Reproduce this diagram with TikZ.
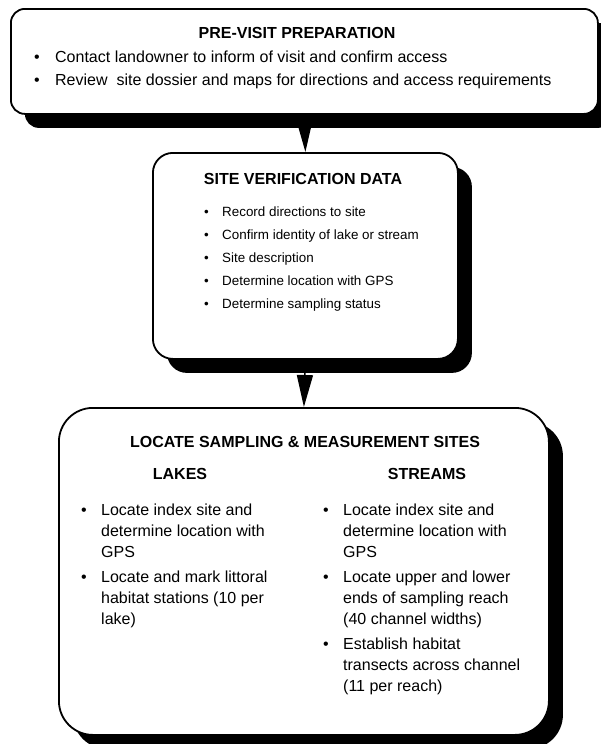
\documentclass[tikz,border=0pt]{standalone}
\usepackage{fontspec}
\setmainfont{Liberation Sans}
\usetikzlibrary{arrows.meta,shadows}

% bullet mark in a column of width #1
\newcommand\bul[1]{\makebox[#1][l]{\textbullet}}

\tikzset{
  stagebox/.style={draw=black, line width=1.8pt, fill=white, inner sep=0pt,
    anchor=north west,
    drop shadow={shadow xshift=14pt, shadow yshift=-14pt, fill=black, opacity=1}},
  heading/.style={font=\fontsize{16}{19}\selectfont\bfseries, inner sep=0pt, anchor=base},
  itemlist/.style={inner sep=0pt, anchor=base west},
  flow/.style={line width=1.5pt, -{Triangle[width=16pt,length=32pt]}},
}

\begin{document}
\begin{tikzpicture}[x=1pt,y=-1pt]
\path[use as bounding box, fill=white] (0,0) rectangle (600,744);

% stage 1
\node[stagebox, rounded corners=14pt, minimum width=587pt, minimum height=105pt]
  (prep) at (10,8) {};
\node[heading] (prepT) at (297,38) {PRE-VISIT PREPARATION};
\node[itemlist, font=\fontsize{16}{23}\selectfont] (prepL) at (34,62)
  {\begin{tabular}[t]{@{}l@{}l@{}}
   \bul{21pt} & Contact landowner to inform of visit and confirm access\\
   \bul{21pt} & Review\ \ site dossier and maps for directions and access requirements
   \end{tabular}};

% stage 2
\node[stagebox, rounded corners=20pt, minimum width=305pt, minimum height=206pt]
  (verif) at (152,152) {};
\node[heading] (verifT) at (303,184) {SITE VERIFICATION DATA};
\node[itemlist, font=\fontsize{13.4}{23}\selectfont] (verifL) at (203.8,216)
  {\begin{tabular}[t]{@{}l@{}l@{}}
   \bul{18.2pt} & Record directions to site\\
   \bul{18.2pt} & Confirm identity of lake or stream\\
   \bul{18.2pt} & Site description\\
   \bul{18.2pt} & Determine location with GPS\\
   \bul{18.2pt} & Determine sampling status
   \end{tabular}};

% stage 3
\node[stagebox, rounded corners=34pt, minimum width=490pt, minimum height=327pt]
  (locate) at (58,407) {};
\node[heading] (locateT) at (305,447) {LOCATE SAMPLING \& MEASUREMENT SITES};
\node[heading] (lakesT) at (180,479) {LAKES};
\node[heading] (streamsT) at (427,479) {STREAMS};
\node[itemlist, font=\fontsize{16}{21}\selectfont] (lakesL) at (81,515)
  {\begin{tabular}[t]{@{}l@{}l@{}}
   \bul{20pt} & Locate index site and\\
              & determine location with\\
              & GPS\\[4pt]
   \bul{20pt} & Locate and mark littoral\\
              & habitat stations (10 per\\
              & lake)
   \end{tabular}};
\node[itemlist, font=\fontsize{16}{21}\selectfont] (streamsL) at (323,515)
  {\begin{tabular}[t]{@{}l@{}l@{}}
   \bul{20pt} & Locate index site and\\
              & determine location with\\
              & GPS\\[4pt]
   \bul{20pt} & Locate upper and lower\\
              & ends of sampling reach\\
              & (40 channel widths)\\[4pt]
   \bul{20pt} & Establish habitat\\
              & transects across channel\\
              & (11 per reach)
   \end{tabular}};

% connectors
\draw[flow] (prep.south) -- (verif.north);
\draw[flow] (verif.south) -- (locate.north);
\end{tikzpicture}
\end{document}
